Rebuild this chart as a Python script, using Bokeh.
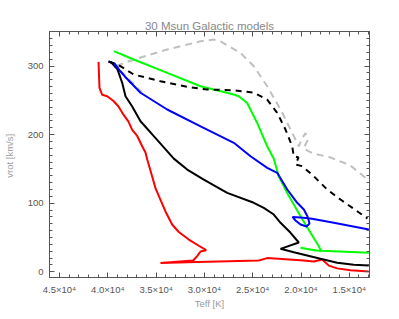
from bokeh.plotting import figure
from bokeh.models import Range1d, FixedTicker, LinearAxis
from bokeh.embed import file_html
from bokeh.resources import INLINE

# ---- data (Teff [K], vrot [km/s]) ----
red_T = [40960, 40860, 40580, 40063, 39411, 38893, 38376, 37858, 37475, 36958, 36440, 36099,
         35923, 35406, 35064, 34546, 34029, 33339, 32650, 31615, 30580, 29818, 30403, 30748,
         31162, 34546, 31783, 24369, 23507, 20050, 18670, 17807, 17117, 16255, 14875, 12980]
red_v = [306, 268, 258, 256, 249, 241, 229, 219, 207, 198, 183, 174,
         164, 139, 122, 105, 88, 69, 58, 47, 38, 31.5, 29.6, 22.8,
         16.5, 13, 14, 16.5, 20, 17, 15, 18, 9, 5, 2.3, 0.4]

black_T = [39720, 38996, 38509, 38168, 37474, 36612, 35238, 33168, 31781, 30063, 27640, 24887,
           23852, 22817, 22120, 21080, 20228, 22120, 20745, 17981, 16254, 14534, 12980]
black_v = [306.5, 295, 275.5, 256, 241, 219.5, 197.7, 165, 149, 134.5, 115, 100.6,
           93.3, 83.5, 71.4, 56.9, 42.7, 33.5, 28.6, 19, 13.1, 10.2, 9.2]

blue_T = [39927, 39307, 38686, 37961, 36615, 33851, 30397, 26953, 25227, 23497, 22461, 21426,
          20390, 19707, 19324, 19117, 19428, 20050, 20568, 20878, 20050, 19015, 16603, 12980]
blue_v = [306.5, 303.7, 292, 280.6, 261, 236.6, 212, 188, 168.5, 151.6, 144.3, 120,
          100.6, 90.8, 80.6, 70.4, 66, 69, 74.8, 80, 79, 77.7, 71.4, 61.7]

green_T = [39379, 37309, 33851, 30403, 26957, 26439, 25570, 24535, 23500, 22817, 22299, 21430,
           20050, 19015, 18155, 17907, 19000, 20050, 18500, 16604, 12980]
green_v = [321.6, 309.5, 290, 270.5, 258.5, 256, 246, 217, 183, 164.7, 139, 115,
           81, 56.9, 37.3, 30, 32.5, 35, 31, 30, 27.7]

bdash_T = [39927, 38686, 37309, 34546, 31781, 29711, 26957, 24887, 23500, 22465, 21605, 20912,
           20746, 20260, 20570, 19876, 18676, 17290, 15913, 14184, 13118]
bdash_v = [306.5, 299.7, 287.6, 277.8, 269.7, 265.7, 264.7, 261, 251, 231.8, 207.4, 183,
           168.5, 166.6, 156.4, 154, 139.4, 120, 105.4, 88.3, 77.7]

gdash_T = [36440, 39513, 39203, 37309, 33851, 30403, 29026, 28333, 26263, 24887, 23500, 22120,
           21080, 20228, 19897, 19535, 19328, 19742, 19328, 18707, 16947, 14877, 13118]
gdash_v = [261, 305, 299.7, 309.5, 324, 336, 338.6, 336, 319, 299.7, 270.5, 236.6,
           207.4, 183, 194, 202.3, 191.4, 179.7, 176.8, 172.4, 166.6, 155, 134.5]

bluedash_T = [39720, 38900, 38100, 37135, 37500, 38600, 39500]
bluedash_v = [306.5, 296, 284, 268.5, 272, 290, 303]

x_major = [45000, 40000, 35000, 30000, 25000, 20000, 15000]
x_labels = {45000: "4.5×10⁴", 40000: "4.0×10⁴", 35000: "3.5×10⁴", 30000: "3.0×10⁴",
            25000: "2.5×10⁴", 20000: "2.0×10⁴", 15000: "1.5×10⁴"}
y_major = [0, 100, 200, 300]

FONT = "Liberation Sans"
AX = "#555555"

p = figure(frame_width=320, frame_height=246, output_backend="svg", toolbar_location=None,
           x_range=Range1d(46035, 12909), y_range=Range1d(-8.3, 350.3),
           title="30 Msun Galactic models", x_axis_label="Teff [K]",
           y_axis_label="vrot  [km/s]",
           min_border_left=41, min_border_right=10, min_border_top=31, min_border_bottom=20)
p.title.align = "center"
p.title.vertical_align = "bottom"
p.title.text_font = FONT
p.title.text_font_size = "11.5px"
p.title.text_font_style = "normal"
p.title.text_color = "#888888"
p.title.offset = 0
p.title.standoff = 0

p.xgrid.visible = False
p.ygrid.visible = False
p.outline_line_color = AX
p.outline_line_width = 1
p.background_fill_color = "white"
p.border_fill_color = "white"

xt = FixedTicker(ticks=x_major, minor_ticks=list(range(13000, 46001, 1000)))
yt = FixedTicker(ticks=y_major, minor_ticks=list(range(-10, 351, 10)))

def style(ax, show):
    ax.axis_line_color = AX
    ax.major_tick_line_color = AX
    ax.minor_tick_line_color = AX
    ax.major_tick_in = 5
    ax.major_tick_out = 0
    ax.minor_tick_in = 3
    ax.minor_tick_out = 0
    ax.major_label_text_font = FONT
    ax.major_label_text_font_size = "9.5px"
    ax.major_label_text_color = "#555555" if show else None
    ax.axis_label_text_font = FONT
    ax.axis_label_text_font_size = "9.5px"
    ax.axis_label_text_font_style = "normal"
    ax.axis_label_text_color = "#999999"

p.xaxis.ticker = xt
p.xaxis.major_label_overrides = x_labels
p.yaxis.ticker = yt
style(p.xaxis[0], True)
style(p.yaxis[0], True)
p.xaxis.major_label_standoff = 6
p.xaxis.axis_label_standoff = 0
p.yaxis.major_label_standoff = 6
p.yaxis.axis_label_standoff = 10

top = LinearAxis(ticker=xt)
style(top, False)
top.major_label_text_font_size = "0px"
top.major_label_standoff = 0
p.add_layout(top, "above")
right = LinearAxis(ticker=yt)
style(right, False)
right.major_label_text_font_size = "0px"
right.major_label_standoff = 0
p.add_layout(right, "right")

p.line(gdash_T, gdash_v, line_color="#c0c0c0", line_width=2, line_dash="7 5")
p.line(red_T, red_v, line_color="#ff0000", line_width=2)
p.line(black_T, black_v, line_color="black", line_width=2)
p.line(green_T, green_v, line_color="#00ff00", line_width=2)
p.line(blue_T, blue_v, line_color="#0000ff", line_width=2)
p.line(bluedash_T, bluedash_v, line_color="#0000ff", line_width=1, line_dash="4 3")
p.line(bdash_T, bdash_v, line_color="black", line_width=2, line_dash="6 5")

open("out.html", "w").write(file_html(p, INLINE))
